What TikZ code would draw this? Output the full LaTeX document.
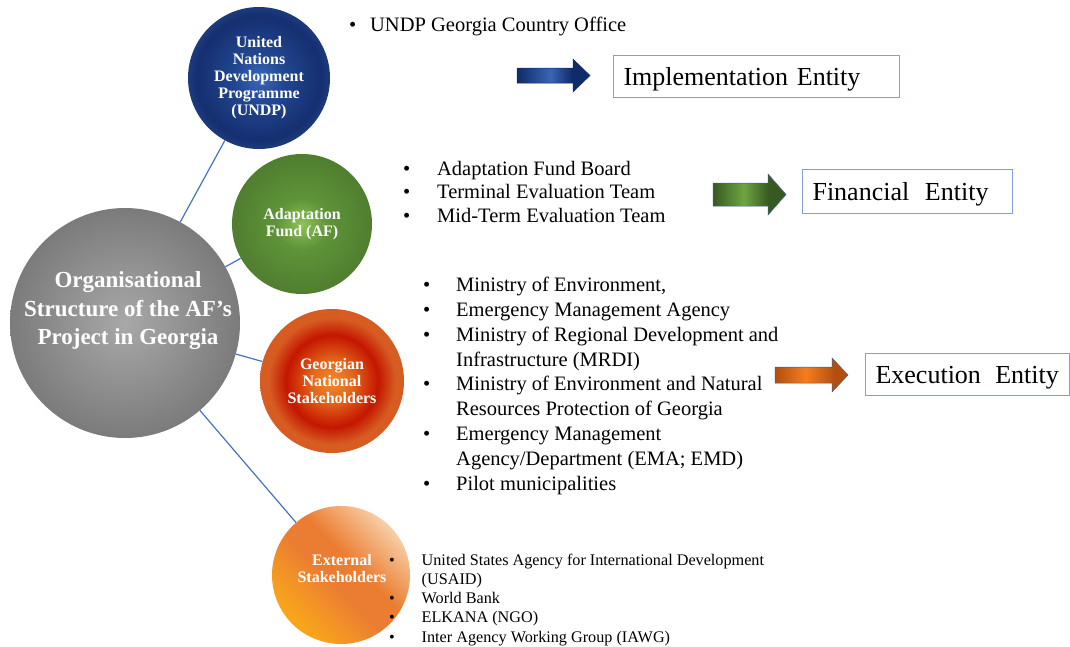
\documentclass[tikz,border=0pt]{standalone}
\usepackage{fontspec}
\setmainfont{Liberation Serif}
\usetikzlibrary{calc}

% palette
\definecolor{linkblue}{HTML}{4472C4}
\definecolor{boxblue}{HTML}{7FA0D8}
\definecolor{undpA}{HTML}{3B68B8}
\definecolor{undpB}{HTML}{22468F}
\definecolor{undpC}{HTML}{152F70}
\definecolor{undpD}{HTML}{1D3B7B}
\definecolor{afA}{HTML}{8CC455}
\definecolor{afB}{HTML}{5F9439}
\definecolor{afC}{HTML}{4F7E2F}
\definecolor{geoA}{HTML}{EE8A2E}
\definecolor{geoB}{HTML}{E4681C}
\definecolor{geoC}{HTML}{C41600}
\definecolor{geoD}{HTML}{D65C22}
\definecolor{grayA}{HTML}{A8A8A8}
\definecolor{grayB}{HTML}{7B7B7B}
\definecolor{extA}{HTML}{F8A51C}
\definecolor{extB}{HTML}{EB7D32}
\definecolor{extC}{HTML}{F7CFA6}
\definecolor{navyDark}{HTML}{0F2B6A}
\definecolor{navyLight}{HTML}{3A64B4}
\definecolor{grnDark}{HTML}{385A22}
\definecolor{grnLight}{HTML}{6EA542}
\definecolor{orgDark}{HTML}{B34E10}
\definecolor{orgLight}{HTML}{F57D1E}
\definecolor{arrowedge}{HTML}{3F5F8A}

% radial fills for the circles (25bp = rim)
\pgfdeclareradialshading{undporb}{\pgfpoint{0bp}{0bp}}{color(0bp)=(undpA); color(9bp)=(undpB); color(22bp)=(undpC); color(25bp)=(undpD); color(50bp)=(undpD)}
\pgfdeclareradialshading{aforb}{\pgfpoint{0bp}{0bp}}{color(0bp)=(afA); color(9bp)=(afB); color(25bp)=(afC); color(50bp)=(afC)}
\pgfdeclareradialshading{geoorb}{\pgfpoint{0bp}{0bp}}{color(0bp)=(geoA); color(7bp)=(geoB); color(16bp)=(geoC); color(22bp)=(geoD); color(25bp)=(geoD); color(50bp)=(geoD)}
\pgfdeclareradialshading{grayorb}{\pgfpoint{0bp}{0bp}}{color(0bp)=(grayA); color(25bp)=(grayB); color(50bp)=(grayB)}
% diagonal fill for the external stakeholders circle
\pgfdeclarehorizontalshading{extorb}{100bp}{color(0bp)=(extA); color(27bp)=(extA); color(46bp)=(extB); color(56bp)=(extB); color(75bp)=(extC); color(100bp)=(extC)}
% block arrow fills: dark ends, light middle
\pgfdeclarehorizontalshading{bluearrow}{100bp}{color(0bp)=(navyDark); color(25bp)=(navyDark); color(48bp)=(navyLight); color(63bp)=(navyDark); color(100bp)=(navyDark)}
\pgfdeclarehorizontalshading{greenarrow}{100bp}{color(0bp)=(grnDark); color(25bp)=(grnDark); color(46bp)=(grnLight); color(63bp)=(grnDark); color(100bp)=(grnDark)}
\pgfdeclarehorizontalshading{orangearrow}{100bp}{color(0bp)=(orgDark); color(25bp)=(orgDark); color(46bp)=(orgLight); color(66bp)=(orgDark); color(100bp)=(orgDark)}

% bullet item and continuation line
\newcommand\bul[2]{\makebox[#1][l]{•}#2}
\newcommand\cnt[2]{\hspace*{#1}#2}

\begin{document}
\begin{tikzpicture}[x=1pt, y=-1pt,
  link/.style={draw=linkblue, line width=1.2pt},
  orb/.style={circle, inner sep=0pt, align=center, text=white,
    font=\bfseries\fontsize{16}{17}\selectfont},
  orbtext/.style={inner sep=0pt, align=center, text=white,
    font=\bfseries\fontsize{16}{17}\selectfont},
  entitybox/.style={draw=boxblue, line width=1.1pt, fill=white, anchor=north west,
    inner xsep=10pt, inner ysep=0pt, align=left, text height=18pt, text depth=0pt,
    font=\fontsize{26}{30}\selectfont},
  listtext/.style={anchor=base west, inner sep=0pt},
  blockarrow/.style={draw=arrowedge, line width=0.5pt}
]
\useasboundingbox (0,0) rectangle (1070,646);

% circles
\node[orb, shade, shading=grayorb, minimum size=230pt] (main) at (125,323) {};
\node[orbtext, font=\bfseries\fontsize{23}{28.5}\selectfont] (maintxt) at (128,311)
  {Organisational\\Structure of the AF’s\\Project in Georgia};
\node[orb, shade, shading=undporb, minimum size=142pt] (undp) at (259,78)
  {United\\Nations\\Development\\Programme\\(UNDP)};
\node[orb, shade, shading=aforb, minimum size=140pt] (af) at (302,224)
  {Adaptation\\Fund (AF)};
\node[orb, shade, shading=geoorb, minimum size=144pt] (geo) at (332,381)
  {Georgian\\National\\Stakeholders};
\node[orb, shade, shading=extorb, shading angle=45, minimum size=138pt] (ext) at (341,575) {};
\node[orbtext] (exttxt) at (342,569) {External\\Stakeholders};

% connectors
\draw[link] (main) -- (undp);
\draw[link] (main) -- (af);
\draw[link] (main) -- (geo);
\draw[link] (main) -- (ext);

% lists
\node[listtext, font=\fontsize{20.5}{24}\selectfont] (undplist) at (349,31.7)
  {\bul{21pt}{UNDP Georgia Country Office}};
\node[listtext, font=\fontsize{20.5}{23.85}\selectfont] (aflist) at (403,175)
  {\begin{tabular}[t]{@{}l@{}}
   \bul{34pt}{Adaptation Fund Board}\\
   \bul{34pt}{Terminal Evaluation Team}\\
   \bul{34pt}{Mid-Term Evaluation Team}
   \end{tabular}};
\node[listtext, font=\fontsize{20.5}{24.8}\selectfont] (geolist) at (423,291.7)
  {\begin{tabular}[t]{@{}l@{}}
   \bul{33pt}{Ministry of Environment,}\\
   \bul{33pt}{Emergency Management Agency}\\
   \bul{33pt}{Ministry of Regional Development and}\\
   \cnt{33pt}{Infrastructure (MRDI)}\\
   \bul{33pt}{Ministry of Environment and Natural}\\
   \cnt{33pt}{Resources Protection of Georgia}\\
   \bul{33pt}{Emergency Management}\\
   \cnt{33pt}{Agency/Department (EMA; EMD)}\\
   \bul{33pt}{Pilot municipalities}
   \end{tabular}};
\node[listtext, font=\fontsize{16.2}{19.25}\selectfont] (extlist) at (389,565)
  {\begin{tabular}[t]{@{}l@{}}
   \bul{32.5pt}{United States Agency for International Development}\\
   \cnt{32.5pt}{(USAID)}\\
   \bul{32.5pt}{World Bank}\\
   \bul{32.5pt}{ELKANA (NGO)}\\
   \bul{32.5pt}{Inter Agency Working Group (IAWG)}
   \end{tabular}};

% entity boxes
\node[entitybox, minimum height=42pt, text width=266pt] (impl) at (613,55)
  {\mbox{Implementation Entity}};
\node[entitybox, minimum height=44pt, text width=190pt] (fin) at (802,169)
  {\mbox{Financial\hspace{0.6em}Entity}};
\node[entitybox, minimum height=42pt, text width=184pt] (exe) at (865,353)
  {\mbox{Execution\hspace{0.55em}Entity}};

% block arrows
\shadedraw[blockarrow, draw=navyDark, shading=bluearrow]
  (517,68) -- (573,68) -- (573,59) -- (590,75.5) -- (573,92) -- (573,83) -- (517,83) -- cycle;
\shadedraw[blockarrow, shading=greenarrow]
  (713,183) -- (768,183) -- (768,174) -- (786,194.5) -- (768,215) -- (768,206) -- (713,206) -- cycle;
\shadedraw[blockarrow, shading=orangearrow]
  (775,367) -- (832,367) -- (832,358) -- (848,375) -- (832,392) -- (832,383) -- (775,383) -- cycle;
\end{tikzpicture}
\end{document}
